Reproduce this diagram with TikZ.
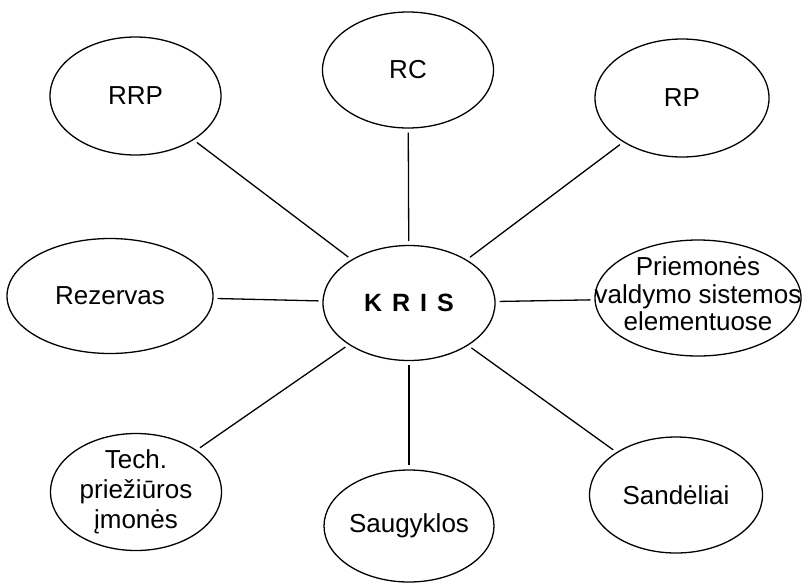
\documentclass[tikz,border=0pt]{standalone}
\usepackage{fontspec}
\setmainfont{Liberation Sans}
\usetikzlibrary{shapes.geometric}

\begin{document}
\begin{tikzpicture}[x=1pt,y=-1pt,
  bubble/.style={ellipse, draw, line width=1.3pt, inner sep=0pt},
  txt/.style={font=\fontsize{26}{30}\selectfont, align=center, inner sep=0pt},
  link/.style={line width=1.3pt, shorten <=4pt, shorten >=4pt}]
\useasboundingbox (0,0) rectangle (802,582);

% central node
\node[bubble, minimum width=172pt, minimum height=115pt,
      label={[txt, font=\fontsize{25}{29}\selectfont\bfseries]center:K\hspace{0.4em}R\hspace{0.4em}I\hspace{0.4em}S}]
      (kris) at (409,303) {};

% surrounding nodes
\node[bubble, minimum width=171pt, minimum height=118pt,
      label={[txt]center:RRP}] (rrp) at (135.5,96) {};
\node[bubble, minimum width=171pt, minimum height=116pt,
      label={[txt]center:RC}] (rc) at (408,70) {};
\node[bubble, minimum width=174pt, minimum height=118pt,
      label={[txt]center:RP}] (rp) at (682,98) {};
\node[bubble, minimum width=206pt, minimum height=115pt,
      label={[txt]center:Rezervas}] (rez) at (110,296) {};
\node[bubble, minimum width=206pt, minimum height=116pt,
      label={[txt, font=\fontsize{26}{27.5}\selectfont, yshift=4pt]center:Priemonės\\valdymo sistemos\\elementuose}] (prm) at (698,298) {};
\node[bubble, minimum width=171pt, minimum height=117pt,
      label={[txt]center:Tech.\\priežiūros\\įmonės}] (tech) at (136,492) {};
\node[bubble, minimum width=170pt, minimum height=112pt,
      label={[txt]center:Saugyklos}] (saug) at (409,526) {};
\node[bubble, minimum width=173pt, minimum height=116pt,
      label={[txt]center:Sandėliai}] (sand) at (676,495) {};

% connectors
\draw[link] (rrp) -- (kris);
\draw[link] (rc) -- (kris);
\draw[link] (rp) -- (kris);
\draw[link] (rez) -- (kris);
\draw[link] (kris) -- (prm);
\draw[link] (tech) -- (kris);
\draw[link] (kris) -- (saug);
\draw[link] (kris) -- (sand);
\end{tikzpicture}
\end{document}
